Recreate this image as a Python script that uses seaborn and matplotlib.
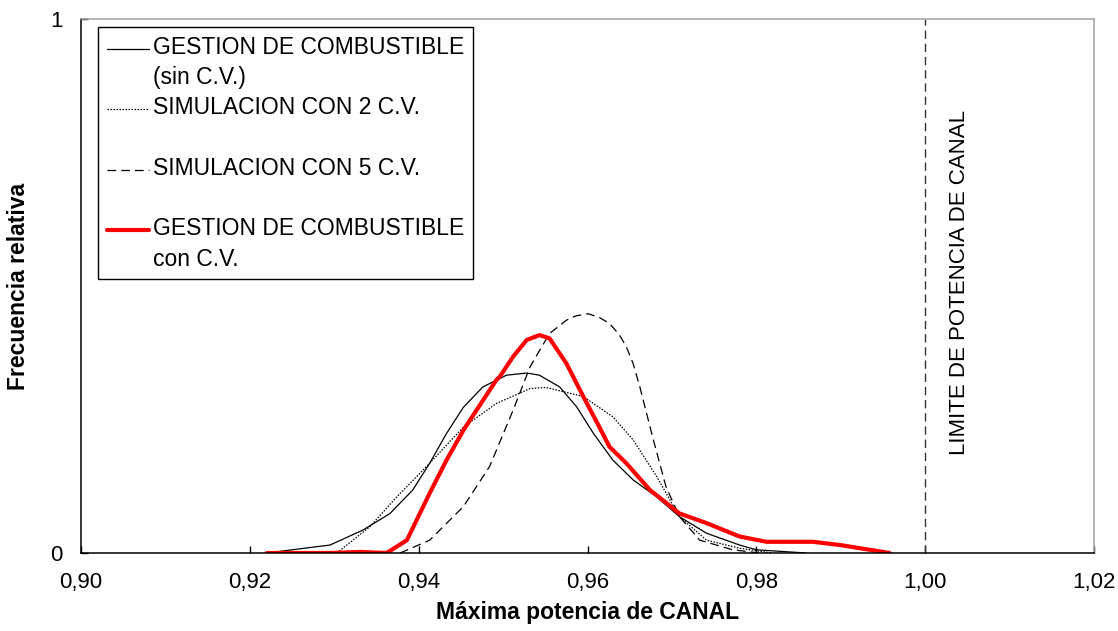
import numpy as np
import pandas as pd
import seaborn as sns
import matplotlib.pyplot as plt
from matplotlib.ticker import FuncFormatter
from matplotlib.legend_handler import HandlerLine2D

sns.set_theme(style="white")
plt.rcParams['font.family'] = ['Liberation Sans', 'DejaVu Sans']
plt.rcParams['text.color'] = 'black'
plt.rcParams['axes.labelcolor'] = 'black'

# GESTION DE COMBUSTIBLE (sin C.V.)
x_sin = [0.9220, 0.9295, 0.9334, 0.9366, 0.9393, 0.9413, 0.9433, 0.9453, 0.9476, 0.9504,
         0.9528, 0.9543, 0.9567, 0.9587, 0.9607, 0.9630, 0.9654, 0.9682, 0.9709, 0.9741,
         0.9780, 0.9800, 0.9859]
y_sin = [0.000, 0.015, 0.043, 0.074, 0.118, 0.168, 0.224, 0.273, 0.311, 0.333,
         0.337, 0.333, 0.311, 0.274, 0.224, 0.174, 0.137, 0.105, 0.068, 0.037,
         0.015, 0.006, 0.000]

# SIMULACION CON 2 C.V.
x_2cv = [0.9303, 0.9342, 0.9374, 0.9413, 0.9453, 0.9492, 0.9532, 0.9551, 0.9595, 0.9630,
         0.9654, 0.9682, 0.9709, 0.9741, 0.9780, 0.9819]
y_2cv = [0.000, 0.049, 0.105, 0.168, 0.236, 0.280, 0.308, 0.310, 0.293, 0.255,
         0.212, 0.143, 0.068, 0.024, 0.009, 0.000]

# SIMULACION CON 5 C.V.
x_5cv = [0.9378, 0.9413, 0.9453, 0.9484, 0.9512, 0.9532, 0.9555, 0.9575, 0.9586, 0.9601,
         0.9614, 0.9626, 0.9638, 0.9646, 0.9654, 0.9662, 0.9678, 0.9693, 0.9709, 0.9733,
         0.9772, 0.9804]
y_5cv = [0.000, 0.024, 0.087, 0.162, 0.268, 0.349, 0.411, 0.436, 0.444, 0.448,
         0.441, 0.430, 0.408, 0.386, 0.355, 0.311, 0.212, 0.124, 0.068, 0.024,
         0.006, 0.000]

# GESTION DE COMBUSTIBLE con C.V.
x_con = [0.9220, 0.9295, 0.9330, 0.9362, 0.9386, 0.9413, 0.9433, 0.9453, 0.9492, 0.9496,
         0.9512, 0.9528, 0.9543, 0.9555, 0.9575, 0.9595, 0.9614, 0.9626, 0.9646, 0.9674,
         0.9709, 0.9741, 0.9780, 0.9812, 0.9867, 0.9899, 0.9958]
y_con = [0.000, 0.000, 0.002, 0.000, 0.024, 0.112, 0.174, 0.230, 0.324, 0.330,
         0.368, 0.399, 0.408, 0.402, 0.355, 0.293, 0.236, 0.199, 0.168, 0.118,
         0.074, 0.056, 0.031, 0.021, 0.021, 0.015, 0.000]

limite = 1.00
x_ticks = [0.90, 0.92, 0.94, 0.96, 0.98, 1.00, 1.02]
y_ticks = [0, 1]


class FirstLineHandler(HandlerLine2D):
    # put the legend key next to the first line of a two-line label
    def __init__(self, shift, **kw):
        super().__init__(**kw)
        self.shift = shift

    def create_artists(self, legend, orig_handle, xdescent, ydescent, width, height,
                       fontsize, trans):
        return super().create_artists(legend, orig_handle, xdescent,
                                      ydescent - 2 * self.shift, width, height,
                                      fontsize, trans)


fig, ax = plt.subplots(figsize=(11.18, 6.31), dpi=100)
fig.subplots_adjust(left=0.0725, right=0.9785, bottom=0.1236, top=0.9699)

sns.lineplot(x=x_sin, y=y_sin, ax=ax, color="black", lw=0.9, sort=False,
             estimator=None, label="GESTION DE COMBUSTIBLE\n(sin C.V.)")
sns.lineplot(x=x_2cv, y=y_2cv, ax=ax, color="black", lw=0.9, sort=False,
             estimator=None, label="SIMULACION CON 2 C.V.\n ", linestyle=(0, (1.2, 1.2)))
sns.lineplot(x=x_5cv, y=y_5cv, ax=ax, color="black", lw=0.9, sort=False,
             estimator=None, label="SIMULACION CON 5 C.V.\n ", linestyle=(0, (7, 4)))
sns.lineplot(x=x_con, y=y_con, ax=ax, color="red", lw=3, sort=False,
             estimator=None, label="GESTION DE COMBUSTIBLE\ncon C.V.")

ax.axvline(limite, color="#333333", lw=1, linestyle=(0, (6, 3.5)))
ax.text(limite + 0.0041, 0.507, "LIMITE DE POTENCIA DE CANAL", rotation=90,
        ha="center", va="center", fontsize=16, color="black")

ax.set_xlim(0.90, 1.02)
ax.set_ylim(0, 1)
ax.set_xticks(x_ticks)
ax.set_yticks(y_ticks)
ax.xaxis.set_major_formatter(FuncFormatter(lambda v, p: f"{v:.2f}".replace(".", ",")))
ax.yaxis.set_major_formatter(FuncFormatter(lambda v, p: f"{v:.0f}"))
ax.tick_params(bottom=True, left=True, direction="in", length=5, width=1,
               color="black", labelsize=16, labelcolor="black", pad=13.5)

ax.set_xlabel("Máxima potencia de CANAL", fontsize=16.5, fontweight="bold", labelpad=6)
ax.set_ylabel("Frecuencia relativa", fontsize=16.5, fontweight="bold", labelpad=14)

for side in ["left", "bottom"]:
    ax.spines[side].set_color("black")
    ax.spines[side].set_linewidth(1.1)
for side in ["top", "right"]:
    ax.spines[side].set_color("#a0a0a0")
    ax.spines[side].set_linewidth(1.1)

handles, labels = ax.get_legend_handles_labels()
leg = ax.legend(handles, labels, loc="upper left", bbox_to_anchor=(0.0168, 0.985),
                borderaxespad=0, prop={"size": 16.5}, frameon=True, fancybox=False,
                framealpha=1, handlelength=1.85, handletextpad=0.15, labelspacing=0.32,
                borderpad=0.38,
                handler_map={h: FirstLineHandler(10.4) for h in handles})
for t in leg.get_texts():
    t.set_linespacing(1.4)
leg.get_frame().set_edgecolor("black")
leg.get_frame().set_linewidth(1)

fig.savefig("out.png", dpi=100)
